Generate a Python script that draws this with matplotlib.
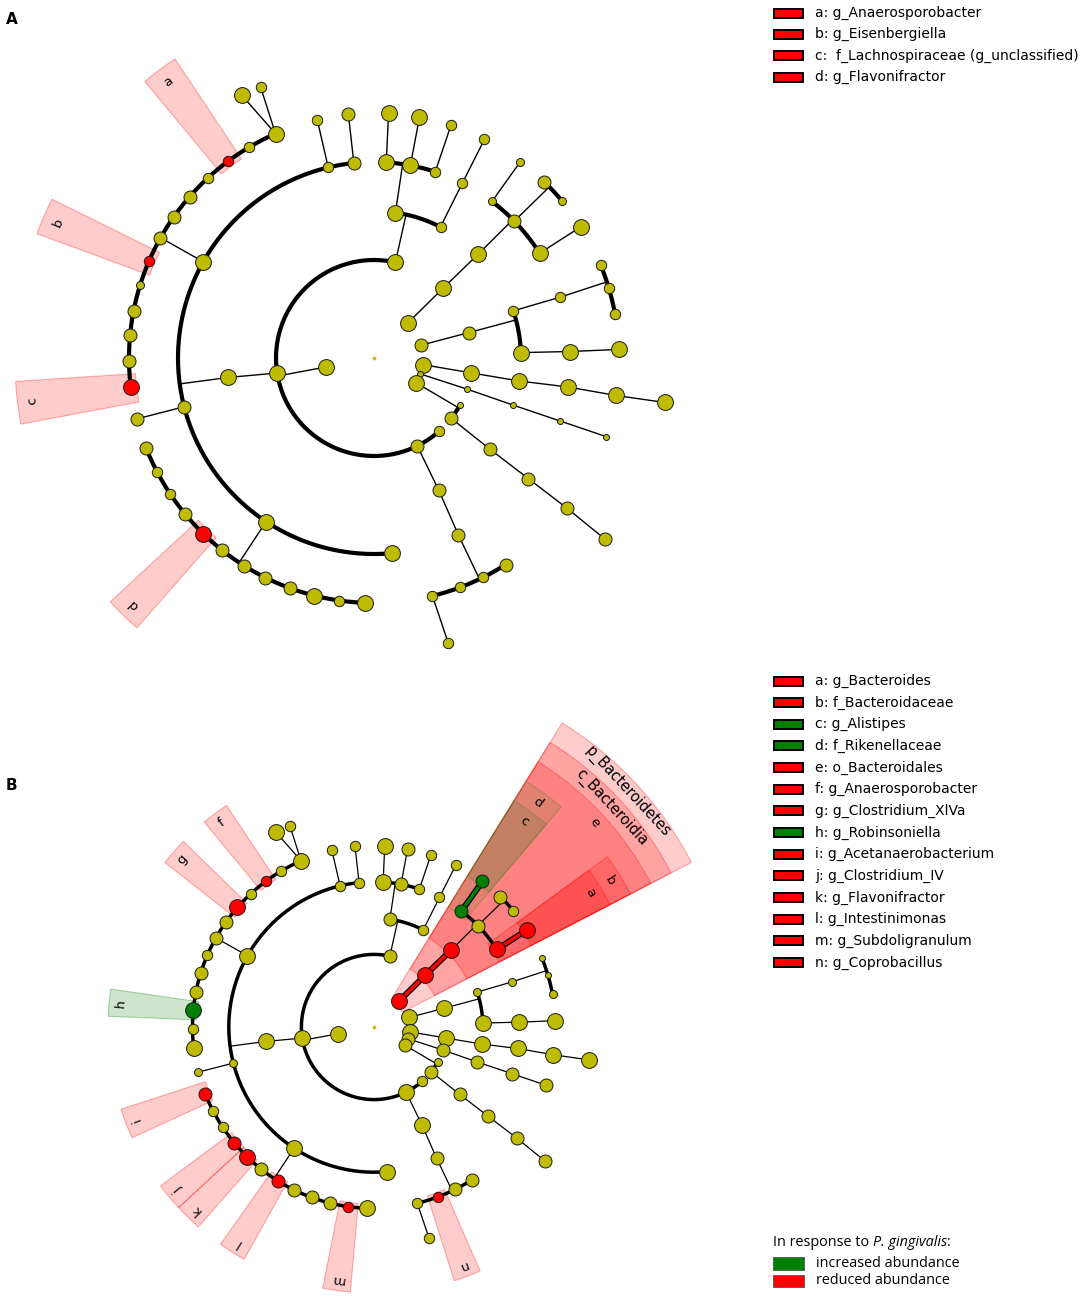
import numpy as np
import matplotlib
matplotlib.use("Agg")
import matplotlib.pyplot as plt
from matplotlib.patches import Wedge, Rectangle

W, H = 1084, 1296

# cladogram nodes: (id, parent, taxonomic level, angle in degrees, abundance grade A, abundance grade B)
firmicutes = [
    ("p_Firmicutes", "root", 1, 190.6, 5, 5),
    ("c_Bacilli", "p_Firmicutes", 2, 77.4, 5, 4),
    ("o_Bacilli_1", "c_Bacilli", 3, 81.6, 5, 4),
    ("f_Bacilli_1", "o_Bacilli_1", 4, 86.4, 5, 5),
    ("g_Bacilli_1", "f_Bacilli_1", 5, 86.6, 5, 5),
    ("f_Bacilli_2", "o_Bacilli_1", 4, 79.3, 5, 4),
    ("g_Bacilli_2", "f_Bacilli_2", 5, 79.3, 5, 4),
    ("f_Bacilli_3", "o_Bacilli_1", 4, 71.8, 3, 3),
    ("g_Bacilli_3", "f_Bacilli_3", 5, 71.7, 3, 3),
    ("o_Bacilli_2", "c_Bacilli", 3, 63.1, 3, 3),
    ("f_Bacilli_4", "o_Bacilli_2", 4, 63.2, 3, 3),
    ("g_Bacilli_4", "f_Bacilli_4", 5, 63.2, 3, 3),
    ("c_Clostridia", "p_Firmicutes", 2, 188.8, 5, 5),
    ("o_Clostridiales", "c_Clostridia", 3, 187.6, 5, 5),
    ("f_Clos_1", "o_Clostridiales", 4, 103.5, 3, 3),
    ("g_Clos_1", "f_Clos_1", 5, 103.4, 3, 3),
    ("f_Clos_2", "o_Clostridiales", 4, 95.9, 4, 3),
    ("g_Clos_2", "f_Clos_2", 5, 96.0, 4, 3),
    ("f_Lachnospiraceae", "o_Clostridiales", 4, 150.6, 5, 5),
    ("g_Lach_1", "f_Lachnospiraceae", 5, 113.7, 5, 5),
    ("s_Lach_1a", "g_Lach_1", 6, 116.7, 5, 5),
    ("s_Lach_1b", "g_Lach_1", 6, 112.7, 3, 3),
    ("g_Lach_2", "f_Lachnospiraceae", 5, 120.7, 3, 3),
    ("g_Anaerosporobacter", "f_Lachnospiraceae", 5, 126.6, 3, 3),
    ("g_Lach_4", "f_Lachnospiraceae", 5, 132.7, 3, 3),
    ("g_Clostridium_XlVa", "f_Lachnospiraceae", 5, 138.8, 4, 5),
    ("g_Lach_6", "f_Lachnospiraceae", 5, 144.8, 4, 4),
    ("g_Lach_7", "f_Lachnospiraceae", 5, 150.7, 4, 4),
    ("g_Eisenbergiella", "f_Lachnospiraceae", 5, 156.8, 3, 3),
    ("g_Lach_9", "f_Lachnospiraceae", 5, 162.7, 2, 4),
    ("g_Lach_10", "f_Lachnospiraceae", 5, 168.9, 4, 4),
    ("g_Robinsoniella", "f_Lachnospiraceae", 5, 174.7, 4, 5),
    ("g_Lach_12", "f_Lachnospiraceae", 5, 180.7, 4, 3),
    ("g_Lach_unclassified", "f_Lachnospiraceae", 5, 186.8, 5, 5),
    ("f_Clos_4", "o_Clostridiales", 4, 194.4, 4, 2),
    ("g_Clos_4", "f_Clos_4", 5, 194.4, 4, 2),
    ("f_Ruminococcaceae", "o_Clostridiales", 4, 236.6, 5, 5),
    ("g_Acetanaerobacterium", "f_Ruminococcaceae", 5, 201.6, 4, 4),
    ("g_Rum_2", "f_Ruminococcaceae", 5, 207.6, 3, 3),
    ("g_Rum_3", "f_Ruminococcaceae", 5, 213.6, 3, 3),
    ("g_Clostridium_IV", "f_Ruminococcaceae", 5, 219.7, 4, 4),
    ("g_Flavonifractor", "f_Ruminococcaceae", 5, 225.8, 5, 5),
    ("g_Rum_6", "f_Ruminococcaceae", 5, 231.6, 4, 4),
    ("g_Intestinimonas", "f_Ruminococcaceae", 5, 237.9, 4, 4),
    ("g_Rum_8", "f_Ruminococcaceae", 5, 243.7, 4, 4),
    ("g_Rum_9", "f_Ruminococcaceae", 5, 249.9, 4, 4),
    ("g_Rum_10", "f_Ruminococcaceae", 5, 255.9, 5, 4),
    ("g_Subdoligranulum", "f_Ruminococcaceae", 5, 261.9, 3, 3),
    ("g_Rum_12", "f_Ruminococcaceae", 5, 267.9, 5, 5),
    ("f_Clos_6", "o_Clostridiales", 4, 275.3, 5, 5),
    ("c_Erysipelotrichia", "p_Firmicutes", 2, 296.2, 4, 5),
    ("o_Erysipelotrichales", "c_Erysipelotrichia", 3, 296.1, 4, 5),
    ("f_Erysipelotrichaceae", "o_Erysipelotrichales", 4, 295.5, 4, 4),
    ("g_Ery_1", "f_Erysipelotrichaceae", 5, 283.8, 3, 3),
    ("s_Ery_1", "g_Ery_1", 6, 284.6, 3, 3),
    ("g_Coprobacillus", "f_Erysipelotrichaceae", 5, 290.5, 3, 3),
    ("g_Ery_3", "f_Erysipelotrichaceae", 5, 296.5, 3, 4),
    ("g_Ery_4", "f_Erysipelotrichaceae", 5, 302.5, 4, 4),
    ("c_Firm_4", "p_Firmicutes", 2, 311.8, 3, 3),
]

bacteroidetes = [
    ("p_Bacteroidetes", "root", 1, 46.0, 5, 5),
    ("c_Bacteroidia", "p_Bacteroidetes", 2, 45.3, 5, 5),
    ("o_Bacteroidales", "c_Bacteroidia", 3, 44.9, 5, 5),
    ("f_Rikenellaceae", "o_Bacteroidales", 4, 53.0, 2, 4),
    ("g_Alistipes", "f_Rikenellaceae", 5, 53.3, 2, 4),
    ("f_Bact_2", "o_Bacteroidales", 4, 44.3, 4, 4),
    ("g_Bact_2a", "f_Bact_2", 5, 45.9, 4, 4),
    ("g_Bact_2b", "f_Bact_2", 5, 39.8, 2, 3),
    ("f_Bacteroidaceae", "o_Bacteroidales", 4, 32.3, 5, 5),
    ("g_Bacteroides", "f_Bacteroidaceae", 5, 32.4, 5, 5),
]

phylum_2 = [
    ("p_2", "root", 1, 15.2, 4, 5),
    ("c_2", "p_2", 2, 15.0, 4, 5),
    ("o_2a", "c_2", 3, 18.7, 3, 2),
    ("f_2a", "o_2a", 4, 18.1, 3, 2),
    ("g_2a1", "f_2a", 5, 22.4, 3, 1),
    ("g_2a2", "f_2a", 5, 16.5, 3, 1),
    ("g_2a3", "f_2a", 5, 10.4, 3, 2),
    ("o_2b", "c_2", 3, 2.1, 5, 5),
    ("f_2b", "o_2b", 4, 1.9, 5, 5),
    ("g_2b", "f_2b", 5, 2.0, 5, 5),
]

phylum_3 = [
    ("p_3", "root", 1, -7.7, 5, 5),
    ("c_3", "p_3", 2, -8.7, 5, 5),
    ("o_3", "c_3", 3, -9.0, 5, 5),
    ("f_3", "o_3", 4, -8.5, 5, 5),
    ("g_3", "f_3", 5, -8.8, 5, 5),
    ("s_3", "g_3", 6, -8.7, 5, 5),
]

phylum_4 = [
    ("p_4", "root", 1, -19.0, 1, 4),
    ("c_4", "p_4", 2, -18.5, 1, 4),
    ("o_4", "c_4", 3, -18.7, 1, 4),
    ("f_4", "o_4", 4, -18.7, 1, 4),
    ("g_4", "f_4", 5, -18.7, 1, 4),
]

phylum_5 = [
    ("p_5", "root", 1, -30.5, 5, 4),
    ("c_5a", "p_5", 2, -28.7, 1, 2),
    ("c_5b", "p_5", 2, -38.0, 4, 4),
    ("o_5", "c_5b", 3, -38.2, 4, 4),
    ("f_5", "o_5", 4, -38.0, 4, 4),
    ("g_5", "f_5", 5, -37.9, 4, 4),
    ("s_5", "g_5", 6, -38.1, 4, 4),
]

# highlighted clades: (label, node, colour)
boxes_A = [
    ("a", "g_Anaerosporobacter", "red"),
    ("b", "g_Eisenbergiella", "red"),
    ("c", "g_Lach_unclassified", "red"),
    ("d", "g_Flavonifractor", "red"),
]
legend_A = ["a: g_Anaerosporobacter", "b: g_Eisenbergiella",
            "c:  f_Lachnospiraceae (g_unclassified)", "d: g_Flavonifractor"]

boxes_B = [
    ("p_Bacteroidetes", "p_Bacteroidetes", "red"),
    ("c_Bacteroidia", "c_Bacteroidia", "red"),
    ("e", "o_Bacteroidales", "red"),
    ("b", "f_Bacteroidaceae", "red"),
    ("d", "f_Rikenellaceae", "green"),
    ("a", "g_Bacteroides", "red"),
    ("c", "g_Alistipes", "green"),
    ("f", "g_Anaerosporobacter", "red"),
    ("g", "g_Clostridium_XlVa", "red"),
    ("h", "g_Robinsoniella", "green"),
    ("i", "g_Acetanaerobacterium", "red"),
    ("j", "g_Clostridium_IV", "red"),
    ("k", "g_Flavonifractor", "red"),
    ("l", "g_Intestinimonas", "red"),
    ("m", "g_Subdoligranulum", "red"),
    ("n", "g_Coprobacillus", "red"),
]
legend_B = ["a: g_Bacteroides", "b: f_Bacteroidaceae", "c: g_Alistipes", "d: f_Rikenellaceae",
            "e: o_Bacteroidales", "f: g_Anaerosporobacter", "g: g_Clostridium_XlVa",
            "h: g_Robinsoniella", "i: g_Acetanaerobacterium", "j: g_Clostridium_IV",
            "k: g_Flavonifractor", "l: g_Intestinimonas", "m: g_Subdoligranulum",
            "n: g_Coprobacillus"]
legend_B_colors = ["red", "red", "green", "green", "red", "red", "red", "green",
                   "red", "red", "red", "red", "red", "red"]

COLS = {"red": "#ff0000", "green": "#008000"}
YELLOW = "#bfbb00"
RADIUS_PX = [1.6, 3.0, 4.0, 5.2, 6.5, 7.9]

nodes = [("root", None, 0, 0.0, 0, 0)] + firmicutes + bacteroidetes + phylum_2 + phylum_3 + phylum_4 + phylum_5
info = {n[0]: n for n in nodes}
kids = {}
for n in nodes:
    if n[1] is not None:
        kids.setdefault(n[1], []).append(n[0])


def pol(a, r):
    t = np.deg2rad(a)
    return r * np.cos(t), r * np.sin(t)


def leaves_of(nid):
    if nid not in kids:
        return [nid]
    out = []
    for k in kids[nid]:
        out += leaves_of(k)
    return out


def ancestors(nid):
    out = []
    while info[nid][1] is not None:
        nid = info[nid][1]
        out.append(nid)
    return out


all_leaf_ang = sorted(info[l][3] % 360 for l in leaves_of("root"))


def clade_span(nid):
    angs = [info[l][3] % 360 for l in leaves_of(nid)]
    lo, hi = min(angs), max(angs)
    i0, i1 = all_leaf_ang.index(lo), all_leaf_ang.index(hi)
    prev = all_leaf_ang[i0 - 1] if i0 > 0 else all_leaf_ang[-1] - 360
    nxt = all_leaf_ang[i1 + 1] if i1 + 1 < len(all_leaf_ang) else all_leaf_ang[0] + 360
    return (lo + prev) / 2, (hi + nxt) / 2


def draw_panel(ax, col, boxes, cx, cy, unit, lw_thin, lw_arc, fs_letter):
    ax.set_xlim(-cx / unit, (W - cx) / unit)
    ax.set_ylim(-(H - cy) / unit, cy / unit)
    ax.axis("off")
    ax.patch.set_visible(False)
    status = {b[1]: b[2] for b in boxes}

    # highlight wedges, outer clades first
    for lab, nid, c in sorted(boxes, key=lambda b: info[b[1]][2]):
        lev = info[nid][2]
        t1, t2 = clade_span(nid)
        r_out = 7.33 + (5 - lev) * 0.63
        r_in = lev - 0.12
        nested = any(a in status and status[a] != c for a in ancestors(nid))
        alpha = 0.12 if nested else 0.2
        ax.add_patch(Wedge((0, 0), r_out, t1, t2, width=r_out - r_in,
                           facecolor=matplotlib.colors.to_rgba(COLS[c], alpha),
                           edgecolor=matplotlib.colors.to_rgba(COLS[c], alpha + 0.1),
                           lw=0.8, zorder=1))
        tm = (t1 + t2) / 2
        x, y = pol(tm, r_out - 0.31)
        ax.text(x, y, lab, rotation=tm - 90, rotation_mode="anchor", ha="center",
                va="center", fontsize=fs_letter if len(lab) == 1 else 10.5, zorder=6)

    # edges
    for pid, ch in kids.items():
        if pid == "root":
            continue
        pa, pl = info[pid][3], info[pid][2]
        if len(ch) == 1 or all(info[k][2] == 6 for k in ch):
            for k in ch:
                ka, kl = info[k][3], info[k][2]
                xs, ys = zip(pol(pa, pl), pol(ka, kl))
                if k in status and pid in status:
                    ax.plot(xs, ys, color="black", lw=lw_arc + 1.8, zorder=3,
                            solid_capstyle="butt")
                    ax.plot(xs, ys, color=COLS[status[k]], lw=lw_arc, zorder=3,
                            solid_capstyle="butt")
                else:
                    ax.plot(xs, ys, color="black", lw=lw_thin, zorder=2)
        else:
            cl = info[ch[0]][2]
            xs, ys = zip(pol(pa, pl), pol(pa, cl))
            ax.plot(xs, ys, color="black", lw=lw_thin, zorder=2)
            angs = [info[k][3] for k in ch]
            tt = np.linspace(min(angs), max(angs), 300)
            ax.plot(cl * np.cos(np.deg2rad(tt)), cl * np.sin(np.deg2rad(tt)),
                    color="black", lw=lw_arc, zorder=2, solid_capstyle="butt")

    # nodes
    for n in nodes:
        x, y = pol(n[3], n[2])
        r = RADIUS_PX[n[col]]
        s = (2 * r * 0.72) ** 2
        if n[0] == "root":
            ax.scatter([x], [y], s=s, marker="D", color=YELLOW, lw=0, zorder=4)
            continue
        fc = COLS[status[n[0]]] if n[0] in status else YELLOW
        ax.scatter([x], [y], s=s, color=fc, edgecolor="#1a1a1a", lw=0.7,
                   zorder=5 if n[0] in status else 4)


fig = plt.figure(figsize=(W / 100, H / 100), dpi=100)
axA = fig.add_axes([0, 0, 1, 1])
draw_panel(axA, 4, boxes_A, 374, 358, 49.0, 1.0, 3.0, 9.5)
axB = fig.add_axes([0, 0, 1, 1])
draw_panel(axB, 5, boxes_B, 374, 1027, 36.3, 0.9, 2.5, 9.5)


def fx(x):
    return x / W


def fy(y):
    return 1 - y / H


fig.text(fx(6), fy(19), "A", fontsize=11, fontweight="bold", va="center")
fig.text(fx(6), fy(786), "B", fontsize=11, fontweight="bold", va="center")


def legend_rows(labels, colors, y0, step):
    for i, (lab, c) in enumerate(zip(labels, colors)):
        y = y0 + i * step
        fig.add_artist(Rectangle((fx(774), fy(y + 4.5)), 29 / W, 9 / H,
                                 transform=fig.transFigure, facecolor=COLS[c],
                                 edgecolor="black", lw=1.4))
        fig.text(fx(815), fy(y), lab, fontsize=10.0, va="center", ha="left")


legend_rows(legend_A, [b[2] for b in boxes_A], 13, 21.4)
legend_rows(legend_B, legend_B_colors, 681, 21.65)

t1 = fig.text(fx(773), fy(1243), "In response to", fontsize=10.4, family="Open Sans",
              va="center")
rend = fig.canvas.get_renderer()
bb = t1.get_window_extent(renderer=rend)
t2 = fig.text((bb.x1 + 3.8) / W, fy(1243), "P. gingivalis", fontsize=10.4,
              family="Open Sans", style="italic", va="center")
bb2 = t2.get_window_extent(renderer=rend)
fig.text(bb2.x1 / W, fy(1243), ":", fontsize=10.4, family="Open Sans", va="center")
for lab, c, y in [("increased abundance", "green", 1263.5), ("reduced abundance", "red", 1281)]:
    fig.add_artist(Rectangle((fx(773), fy(y + 6.3)), 31 / W, 12.6 / H,
                             transform=fig.transFigure, facecolor=COLS[c],
                             edgecolor="#555555", lw=0.6))
    fig.text(fx(816), fy(y), lab, fontsize=10.4, family="Open Sans", va="center")

fig.savefig("out.png", dpi=100)
